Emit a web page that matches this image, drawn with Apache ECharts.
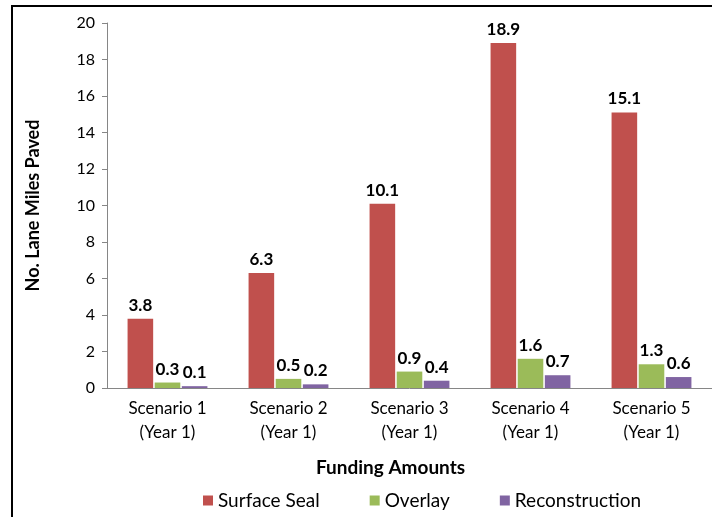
<!DOCTYPE html>
<html>
<head>
<meta charset="utf-8">
<script src="https://cdn.jsdelivr.net/npm/echarts@6/dist/echarts.min.js"></script>
<style>
  html, body { margin: 0; padding: 0; background: #fff; }
  #chart { width: 712px; height: 517px; }
</style>
</head>
<body>
<div id="chart"></div>
<script>
// scenarios on the x axis
const categories = ['Scenario 1\n(Year 1)', 'Scenario 2\n(Year 1)', 'Scenario 3\n(Year 1)', 'Scenario 4\n(Year 1)', 'Scenario 5\n(Year 1)'];
const surfaceSeal = [3.8, 6.3, 10.1, 18.9, 15.1];
const overlay = [0.3, 0.5, 0.9, 1.6, 1.3];
const reconstruction = [0.1, 0.2, 0.4, 0.7, 0.6];
const yTicks = [0, 2, 4, 6, 8, 10, 12, 14, 16, 18, 20];

const font = 'Lato, "Open Sans", sans-serif';

let myChart = echarts.init(document.getElementById('chart'));

// label on top of each bar
const barLabel = {
  show: true,
  position: 'top',
  distance: 5,
  color: '#000',
  fontWeight: 'bold',
  fontSize: 17,
  fontFamily: font
};

let option = {
  animation: false,
  textStyle: { fontFamily: font },
  // frame, only top and left edges are inside the picture
  graphic: [{
    type: 'polyline',
    shape: { points: [[12, 517], [12, 6], [712, 6]] },
    style: { stroke: '#000', lineWidth: 2, fill: null }
  }],
  grid: { left: 107, right: 0, top: 23, bottom: 129 },
  legend: {
    bottom: 2,
    left: 198,
    itemWidth: 10,
    itemHeight: 10,
    itemGap: 50,
    icon: 'rect',
    textStyle: { fontSize: 19, color: '#000', fontFamily: font },
    data: ['Surface Seal', 'Overlay', 'Reconstruction']
  },
  xAxis: {
    type: 'category',
    data: categories,
    name: 'Funding Amounts',
    nameLocation: 'middle',
    nameGap: 70,
    nameTextStyle: { fontWeight: 'bold', fontSize: 19, color: '#000', padding: [0, 38, 0, 0] },
    axisLine: { lineStyle: { color: '#868686' } },
    axisTick: { length: 5, lineStyle: { color: '#868686' } },
    axisLabel: { color: '#000', fontSize: 17, lineHeight: 24, margin: 9 }
  },
  yAxis: {
    type: 'value',
    min: 0,
    max: yTicks[yTicks.length - 1],
    interval: yTicks[1] - yTicks[0],
    name: 'No. Lane Miles Paved',
    nameLocation: 'middle',
    nameGap: 65,
    nameTextStyle: { fontWeight: 'bold', fontSize: 18, color: '#000' },
    axisLine: { show: true, lineStyle: { color: '#868686' } },
    axisTick: { show: true, length: 5, lineStyle: { color: '#868686' } },
    axisLabel: { color: '#000', fontSize: 16, margin: 12 },
    splitLine: { show: false }
  },
  series: [
    {
      name: 'Surface Seal',
      type: 'bar',
      data: surfaceSeal,
      color: '#C0504D',
      barGap: '6%',
      barCategoryGap: '34%',
      label: barLabel
    },
    {
      name: 'Overlay',
      type: 'bar',
      data: overlay,
      color: '#9BBB59',
      label: barLabel
    },
    {
      name: 'Reconstruction',
      type: 'bar',
      data: reconstruction,
      color: '#8064A2',
      label: barLabel
    }
  ]
};

myChart.setOption(option);
</script>
</body>
</html>
